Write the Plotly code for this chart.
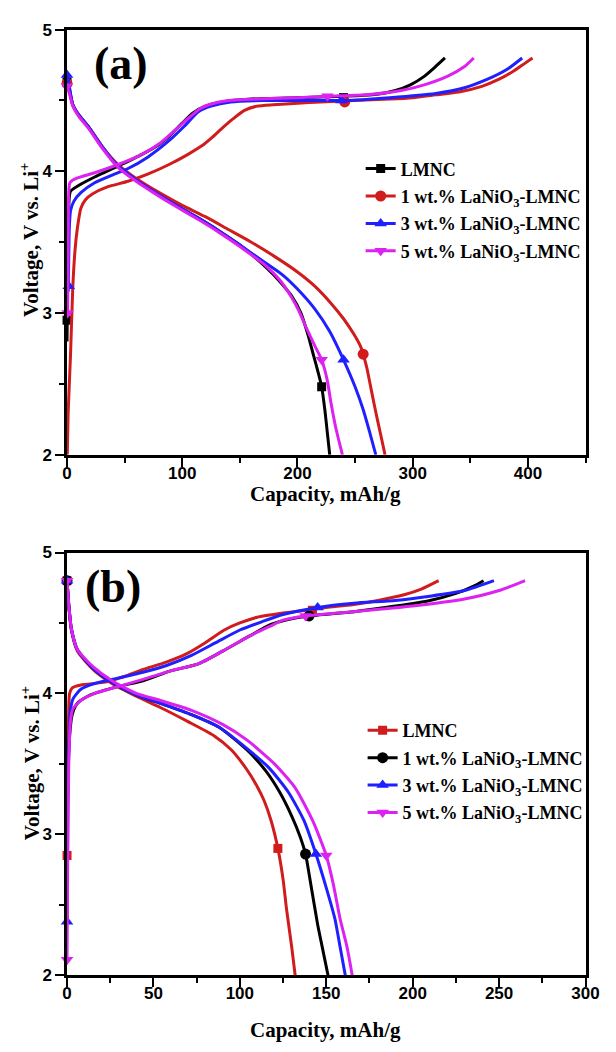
import plotly.graph_objects as go

# ---------------- data: panel (a) ----------------
A_LMNC_CHG_CAP = [0, 0.5, 1, 2, 3, 10, 24, 45, 65, 80, 89, 100, 109, 120, 135, 160, 200, 240, 265, 285, 298, 310, 320, 328]
A_LMNC_CHG_V = [2.8, 3.2, 3.6, 3.82, 3.86, 3.9, 3.96, 4.04, 4.12, 4.19, 4.25, 4.34, 4.41, 4.46, 4.49, 4.51, 4.52, 4.53, 4.54, 4.57, 4.61, 4.67, 4.74, 4.8]
A_LMNC_DIS_CAP = [0, 2, 5, 10, 19, 30, 44, 60, 75, 95, 114, 130, 150, 173, 185, 195, 203, 209, 214, 218, 221, 224, 226, 228]
A_LMNC_DIS_V = [4.63, 4.58, 4.47, 4.4, 4.31, 4.18, 4.04, 3.94, 3.86, 3.76, 3.67, 3.59, 3.48, 3.32, 3.22, 3.12, 3.0, 2.85, 2.7, 2.58, 2.48, 2.3, 2.15, 2.0]

A_1WT_CHG_CAP = [0.2, 1, 3, 5, 7, 9, 12, 16, 22, 35, 53, 70, 89, 105, 117, 126, 134, 144, 154, 165, 179, 200, 220, 249, 280, 300, 320, 340, 360, 375, 388, 397, 404]
A_1WT_CHG_V = [2.0, 2.3, 2.7, 3.18, 3.45, 3.6, 3.74, 3.8, 3.84, 3.89, 3.93, 3.98, 4.05, 4.12, 4.18, 4.24, 4.3, 4.37, 4.43, 4.46, 4.47, 4.48, 4.49, 4.5, 4.51, 4.52, 4.54, 4.56, 4.6, 4.65, 4.71, 4.76, 4.8]
A_1WT_DIS_CAP = [0, 2, 5, 10, 19, 30, 44, 60, 80, 100, 120, 140, 160, 180, 200, 215, 229, 240, 249, 255, 260, 264, 268, 272, 276]
A_1WT_DIS_V = [4.62, 4.57, 4.47, 4.4, 4.31, 4.18, 4.05, 3.95, 3.85, 3.76, 3.68, 3.59, 3.5, 3.4, 3.29, 3.19, 3.07, 2.96, 2.85, 2.76, 2.62, 2.46, 2.3, 2.15, 2.0]

A_3WT_CHG_CAP = [1, 1.5, 2, 3, 6, 12, 24, 38, 53, 70, 89, 102, 114, 125, 142, 170, 200, 240, 280, 320, 345, 365, 382, 395]
A_3WT_CHG_V = [3.15, 3.4, 3.6, 3.72, 3.79, 3.85, 3.92, 3.97, 4.02, 4.1, 4.22, 4.32, 4.42, 4.46, 4.49, 4.5, 4.5, 4.5, 4.52, 4.55, 4.59, 4.65, 4.72, 4.8]
A_3WT_DIS_CAP = [0, 2, 5, 10, 19, 30, 44, 60, 75, 95, 114, 130, 150, 173, 187, 200, 215, 228, 240, 250, 257, 263, 268]
A_3WT_DIS_V = [4.68, 4.6, 4.47, 4.4, 4.31, 4.18, 4.04, 3.94, 3.86, 3.76, 3.67, 3.59, 3.48, 3.35, 3.27, 3.17, 3.03, 2.87, 2.67, 2.48, 2.32, 2.15, 2.0]

A_5WT_CHG_CAP = [0.5, 1, 1.5, 2.5, 8, 24, 45, 65, 81, 95, 106, 115, 123, 140, 165, 200, 226, 260, 290, 310, 330, 345, 353]
A_5WT_CHG_V = [3.0, 3.5, 3.85, 3.92, 3.95, 3.99, 4.05, 4.12, 4.2, 4.3, 4.38, 4.44, 4.47, 4.5, 4.51, 4.52, 4.53, 4.54, 4.57, 4.61, 4.67, 4.74, 4.8]
A_5WT_DIS_CAP = [0, 2, 5, 10, 19, 30, 44, 60, 75, 95, 114, 130, 150, 173, 185, 195, 201, 208, 215, 221, 226, 229, 233, 239]
A_5WT_DIS_V = [4.6, 4.55, 4.46, 4.39, 4.3, 4.17, 4.03, 3.93, 3.85, 3.75, 3.66, 3.58, 3.47, 3.33, 3.23, 3.11, 3.02, 2.89, 2.77, 2.67, 2.52, 2.37, 2.2, 2.0]

# marker points (a)
A_LMNC_MK_CAP = [0, 240, 0, 221]
A_LMNC_MK_V = [2.95, 4.52, 4.63, 2.48]
A_1WT_MK_CAP = [241, 0, 257]
A_1WT_MK_V = [4.49, 4.62, 2.71]
A_3WT_MK_CAP = [1.5, 238, 0, 240]
A_3WT_MK_V = [3.19, 4.5, 4.68, 2.67]
A_5WT_MK_CAP = [0.5, 226, 0, 221]
A_5WT_MK_V = [3.0, 4.53, 4.6, 2.67]

# ---------------- data: panel (b) ----------------
B_LMNC_CHG_CAP = [0, 0.5, 1, 1.5, 3, 8, 22, 33, 44, 57, 69, 80, 91, 100, 110, 125, 138, 150, 165, 180, 195, 205, 215]
B_LMNC_CHG_V = [2.85, 3.5, 3.9, 4.0, 4.04, 4.06, 4.08, 4.12, 4.17, 4.22, 4.28, 4.36, 4.45, 4.5, 4.54, 4.57, 4.59, 4.61, 4.63, 4.66, 4.7, 4.74, 4.8]
B_LMNC_DIS_CAP = [0, 1, 2.5, 6, 15, 26, 40, 54, 70, 85, 95, 104, 110, 114, 118, 122, 125, 127, 130, 132]
B_LMNC_DIS_V = [4.8, 4.62, 4.45, 4.3, 4.17, 4.07, 3.98, 3.9, 3.8, 3.7, 3.6, 3.46, 3.34, 3.24, 3.1, 2.9, 2.68, 2.47, 2.2, 2.0]

B_1WT_CHG_CAP = [0, 0.5, 1.5, 3, 6, 12, 16, 30, 44, 60, 76, 90, 106, 118, 130, 140, 166, 190, 210, 225, 235, 241]
B_1WT_CHG_V = [3.0, 3.4, 3.7, 3.85, 3.93, 3.98, 4.0, 4.05, 4.09, 4.16, 4.21, 4.3, 4.41, 4.49, 4.53, 4.55, 4.58, 4.62, 4.66, 4.71, 4.76, 4.8]
B_1WT_DIS_CAP = [0, 1, 2.5, 6, 15, 26, 40, 54, 72, 88, 104, 115, 123, 130, 135, 138, 141, 145, 148, 151]
B_1WT_DIS_V = [4.8, 4.63, 4.46, 4.31, 4.18, 4.08, 3.99, 3.93, 3.85, 3.76, 3.6, 3.45, 3.3, 3.13, 2.98, 2.86, 2.65, 2.36, 2.18, 2.0]

B_3WT_CHG_CAP = [0, 0.5, 1, 2, 3.4, 8, 16, 30, 44, 58, 72, 86, 100, 113, 125, 145, 166, 190, 210, 230, 247]
B_3WT_CHG_V = [2.38, 3.2, 3.6, 3.88, 3.96, 4.03, 4.07, 4.11, 4.15, 4.2, 4.27, 4.36, 4.45, 4.51, 4.56, 4.61, 4.64, 4.66, 4.69, 4.73, 4.8]
B_3WT_DIS_CAP = [0, 1, 2.5, 6, 15, 26, 40, 54, 72, 88, 104, 117, 128, 137, 144, 150, 155, 158, 161]
B_3WT_DIS_V = [4.8, 4.63, 4.46, 4.31, 4.18, 4.08, 3.99, 3.93, 3.85, 3.76, 3.61, 3.47, 3.3, 3.1, 2.86, 2.62, 2.4, 2.2, 2.0]

B_5WT_CHG_CAP = [0, 0.5, 1, 2, 3.4, 8, 16, 30, 44, 60, 76, 90, 106, 118, 125, 138, 166, 200, 230, 250, 265]
B_5WT_CHG_V = [2.11, 3.0, 3.5, 3.8, 3.89, 3.95, 4.0, 4.05, 4.1, 4.16, 4.21, 4.3, 4.41, 4.48, 4.52, 4.55, 4.58, 4.62, 4.67, 4.73, 4.8]
B_5WT_DIS_CAP = [0, 1, 2.5, 6, 15, 26, 40, 54, 72, 90, 104, 120, 132, 142, 150, 154, 158, 162, 165]
B_5WT_DIS_V = [4.8, 4.63, 4.46, 4.31, 4.19, 4.09, 4.0, 3.95, 3.88, 3.78, 3.67, 3.5, 3.33, 3.1, 2.85, 2.65, 2.4, 2.2, 2.0]

# marker points (b)
B_LMNC_MK_CAP = [0, 142, 0, 122]
B_LMNC_MK_V = [2.85, 4.59, 4.8, 2.9]
B_1WT_MK_CAP = [140, 0, 138]
B_1WT_MK_V = [4.55, 4.8, 2.86]
B_3WT_MK_CAP = [0, 145, 0, 144]
B_3WT_MK_V = [2.38, 4.61, 4.8, 2.86]
B_5WT_MK_CAP = [0, 138, 0, 150]
B_5WT_MK_V = [2.11, 4.55, 4.8, 2.85]

SERIES_NAMES = ["LMNC", "1 wt.% LaNiO<sub>3</sub>-LMNC", "3 wt.% LaNiO<sub>3</sub>-LMNC", "5 wt.% LaNiO<sub>3</sub>-LMNC"]
X_TICKS_A = [0, 100, 200, 300, 400]
X_TICKS_B = [0, 50, 100, 150, 200, 250, 300]
Y_TICKS = [2, 3, 4, 5]

# ---------------- styling ----------------
W, H = 616, 1052
BLACK, RED, BLUE, MAG = "#000000", "#d01c1c", "#1f1fff", "#dc22f0"
SYMBOLS = ["square", "circle", "triangle-up", "triangle-down"]
MSIZE = [9, 11, 11, 11]
COLORS_A = [BLACK, RED, BLUE, MAG]
COLORS_B = [RED, BLACK, BLUE, MAG]
SERIF = "Liberation Serif"
SANS = "Liberation Sans"


def hx(p):
    return p / W


def hy(p):
    return 1 - p / H


panel_a = [
    (A_LMNC_CHG_CAP, A_LMNC_CHG_V, A_LMNC_DIS_CAP, A_LMNC_DIS_V, A_LMNC_MK_CAP, A_LMNC_MK_V),
    (A_1WT_CHG_CAP, A_1WT_CHG_V, A_1WT_DIS_CAP, A_1WT_DIS_V, A_1WT_MK_CAP, A_1WT_MK_V),
    (A_3WT_CHG_CAP, A_3WT_CHG_V, A_3WT_DIS_CAP, A_3WT_DIS_V, A_3WT_MK_CAP, A_3WT_MK_V),
    (A_5WT_CHG_CAP, A_5WT_CHG_V, A_5WT_DIS_CAP, A_5WT_DIS_V, A_5WT_MK_CAP, A_5WT_MK_V),
]
panel_b = [
    (B_LMNC_CHG_CAP, B_LMNC_CHG_V, B_LMNC_DIS_CAP, B_LMNC_DIS_V, B_LMNC_MK_CAP, B_LMNC_MK_V),
    (B_1WT_CHG_CAP, B_1WT_CHG_V, B_1WT_DIS_CAP, B_1WT_DIS_V, B_1WT_MK_CAP, B_1WT_MK_V),
    (B_3WT_CHG_CAP, B_3WT_CHG_V, B_3WT_DIS_CAP, B_3WT_DIS_V, B_3WT_MK_CAP, B_3WT_MK_V),
    (B_5WT_CHG_CAP, B_5WT_CHG_V, B_5WT_DIS_CAP, B_5WT_DIS_V, B_5WT_MK_CAP, B_5WT_MK_V),
]

fig = go.Figure()


def add_panel(panel, colors, xa, ya, legend_name):
    for i, (cc, cv, dc, dv, mc, mv) in enumerate(panel):
        col = colors[i]
        for xs, ys in ((cc, cv), (dc, dv)):
            fig.add_trace(go.Scatter(x=xs, y=ys, mode="lines", xaxis=xa, yaxis=ya,
                                     line=dict(color=col, width=3, shape="spline", smoothing=0.6),
                                     showlegend=False, hoverinfo="skip"))
        fig.add_trace(go.Scatter(x=mc, y=mv, mode="markers", xaxis=xa, yaxis=ya,
                                 marker=dict(color=col, symbol=SYMBOLS[i], size=MSIZE[i], line=dict(width=0)),
                                 showlegend=False, cliponaxis=False, hoverinfo="skip"))
        fig.add_trace(go.Scatter(x=[None], y=[None], mode="lines+markers", xaxis=xa, yaxis=ya,
                                 name=SERIES_NAMES[i], legend=legend_name, legendgroup=f"{legend_name}{i}",
                                 line=dict(color=col, width=3),
                                 marker=dict(color=col, symbol=SYMBOLS[i], size=MSIZE[i], line=dict(width=0))))


add_panel(panel_a, COLORS_A, "x", "y", "legend")
add_panel(panel_b, COLORS_B, "x2", "y2", "legend2")

tickfont = dict(family=SANS, size=17, color="black", weight="bold")
common_axis = dict(showline=True, linewidth=2.5, linecolor="black", mirror=True,
                   ticks="outside", ticklen=9, tickwidth=2, tickcolor="black",
                   showgrid=False, zeroline=False, tickfont=tickfont)

XDOM = [hx(64), hx(599)]
fig.update_layout(
    width=W, height=H, margin=dict(l=0, r=0, t=0, b=0),
    paper_bgcolor="white", plot_bgcolor="white",
    xaxis=dict(domain=XDOM, anchor="y", range=[0, 450], tickvals=X_TICKS_A, ticklabelstandoff=-8,
               minor=dict(ticks="outside", dtick=50, ticklen=5, tickwidth=2, tickcolor="black"),
               **common_axis),
    yaxis=dict(domain=[hy(454), hy(21)], anchor="x", range=[2, 5], tickvals=Y_TICKS,
               minor=dict(ticks="outside", dtick=0.5, ticklen=5, tickwidth=2, tickcolor="black"),
               **common_axis),
    xaxis2=dict(domain=XDOM, anchor="y2", range=[0, 300], tickvals=X_TICKS_B, ticklabelstandoff=-8,
                minor=dict(ticks="outside", dtick=25, ticklen=5, tickwidth=2, tickcolor="black"),
                **common_axis),
    yaxis2=dict(domain=[hy(984), hy(553.5)], anchor="x2", range=[2, 5], tickvals=Y_TICKS,
                minor=dict(ticks="outside", dtick=0.5, ticklen=5, tickwidth=2, tickcolor="black"),
                **common_axis),
    legend=dict(x=hx(367), y=hy(144), xanchor="left", yanchor="top", bgcolor="rgba(0,0,0,0)",
                font=dict(family=SERIF, size=18, color="black", weight="bold"),
                tracegroupgap=1, itemclick=False),
    legend2=dict(x=hx(369), y=hy(716), xanchor="left", yanchor="top", bgcolor="rgba(0,0,0,0)",
                 font=dict(family=SERIF, size=18, color="black", weight="bold"),
                 tracegroupgap=1, itemclick=False),
    showlegend=True,
)

title_font = dict(family=SERIF, size=21, color="black", weight="bold")
annots = [
    dict(text="(a)", x=hx(120), y=hy(56), font=dict(family=SERIF, size=46, color="black", weight="bold")),
    dict(text="(b)", x=hx(111), y=hy(588), font=dict(family=SERIF, size=46, color="black", weight="bold")),
    dict(text="Capacity, mAh/g", x=hx(331), y=hy(494), font=title_font),
    dict(text="Capacity, mAh/g", x=hx(331), y=hy(1040), font=title_font),
    dict(text="Voltage, V vs. Li<sup>+</sup>", x=hx(26), y=hy(235), textangle=-90, font=title_font),
    dict(text="Voltage, V vs. Li<sup>+</sup>", x=hx(26), y=hy(768), textangle=-90, font=title_font),
]
for a in annots:
    fig.add_annotation(xref="paper", yref="paper", showarrow=False, xanchor="center", yanchor="middle", **a)

fig.write_html("out.html")
